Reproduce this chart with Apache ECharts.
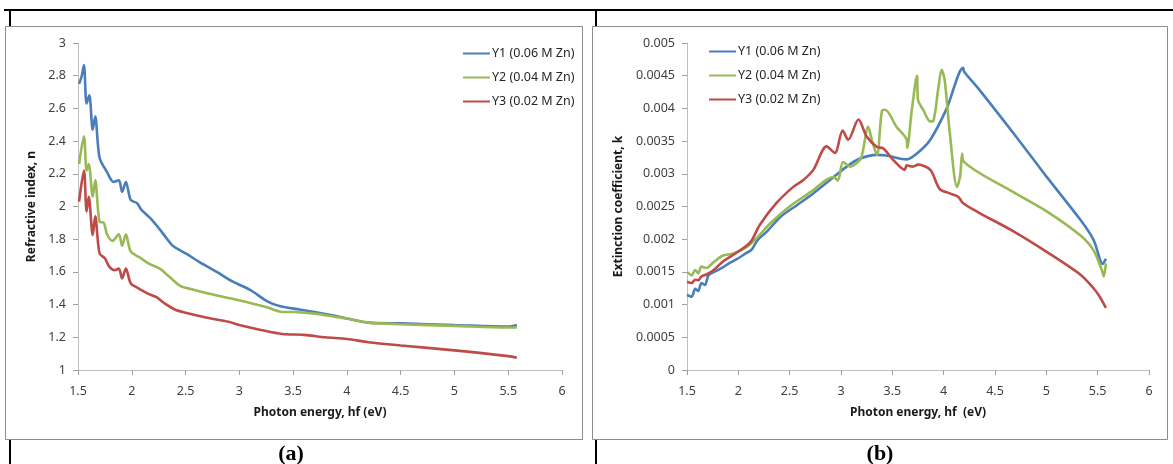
<!DOCTYPE html>
<html>
<head>
<meta charset="utf-8">
<script src="https://cdn.jsdelivr.net/npm/echarts@6/dist/echarts.min.js"></script>
<style>
  html, body { margin: 0; padding: 0; background: #fff; }
  #chart { width: 1173px; height: 464px; }
</style>
</head>
<body>
<div id="chart"></div>
<script>
// Legend names shared by both panels
const seriesNames = ['Y1 (0.06 M Zn)', 'Y2 (0.04 M Zn)', 'Y3 (0.02 M Zn)'];

// Tick labels
const energyTickLabels = ['1.5', '2', '2.5', '3', '3.5', '4', '4.5', '5', '5.5', '6'];
const nTickLabels = ['1', '1.2', '1.4', '1.6', '1.8', '2', '2.2', '2.4', '2.6', '2.8', '3'];
const kTickLabels = ['0', '0.0005', '0.001', '0.0015', '0.002', '0.0025', '0.003', '0.0035', '0.004', '0.0045', '0.005'];

// (a) Refractive index n vs photon energy (eV)
const nY1 = [
  [1.51, 2.75], [1.535, 2.80], [1.555, 2.865], [1.58, 2.63], [1.605, 2.68], [1.637, 2.47],
  [1.66, 2.55], [1.70, 2.30], [1.77, 2.21], [1.83, 2.15], [1.88, 2.16], [1.91, 2.09],
  [1.945, 2.15], [1.99, 2.04], [2.05, 2.02], [2.09, 1.98], [2.17, 1.93], [2.26, 1.86],
  [2.33, 1.80], [2.38, 1.76], [2.51, 1.71], [2.63, 1.66], [2.79, 1.60], [2.94, 1.54],
  [3.10, 1.49], [3.26, 1.42], [3.38, 1.39], [3.56, 1.37], [3.70, 1.355], [3.90, 1.33],
  [4.00, 1.315], [4.20, 1.29], [4.50, 1.285], [5.00, 1.275], [5.50, 1.265], [5.58, 1.275]
];
const nY2 = [
  [1.51, 2.26], [1.555, 2.43], [1.58, 2.22], [1.60, 2.26], [1.637, 2.06], [1.66, 2.16],
  [1.70, 1.907], [1.74, 1.90], [1.77, 1.83], [1.82, 1.79], [1.88, 1.83], [1.91, 1.76],
  [1.945, 1.83], [1.99, 1.725], [2.07, 1.69], [2.16, 1.65], [2.26, 1.62], [2.35, 1.57],
  [2.45, 1.515], [2.55, 1.495], [2.70, 1.47], [2.90, 1.44], [3.10, 1.41], [3.25, 1.385],
  [3.40, 1.355], [3.50, 1.355], [3.70, 1.345], [3.90, 1.325], [4.00, 1.315], [4.20, 1.29],
  [4.50, 1.28], [5.00, 1.27], [5.50, 1.26], [5.58, 1.26]
];
const nY3 = [
  [1.51, 2.03], [1.555, 2.22], [1.58, 1.97], [1.60, 2.06], [1.637, 1.826], [1.66, 1.94],
  [1.70, 1.714], [1.75, 1.683], [1.79, 1.632], [1.84, 1.61], [1.88, 1.62], [1.91, 1.56],
  [1.945, 1.62], [1.99, 1.53], [2.045, 1.506], [2.14, 1.47], [2.23, 1.445], [2.30, 1.41],
  [2.40, 1.37], [2.50, 1.35], [2.70, 1.32], [2.90, 1.295], [3.00, 1.275], [3.20, 1.245],
  [3.40, 1.22], [3.60, 1.215], [3.80, 1.20], [4.00, 1.19], [4.20, 1.17], [4.50, 1.15],
  [5.00, 1.12], [5.50, 1.085], [5.58, 1.075]
];

// (b) Extinction coefficient k vs photon energy (eV)
const kY1 = [
  [1.50, 0.00115], [1.545, 0.00112], [1.58, 0.00124], [1.61, 0.00121], [1.64, 0.00133],
  [1.675, 0.00130], [1.71, 0.00145], [1.79, 0.00152], [1.85, 0.00157], [1.92, 0.00164],
  [1.98, 0.00169], [2.08, 0.00179], [2.13, 0.00184], [2.19, 0.00199], [2.28, 0.00212],
  [2.41, 0.00234], [2.57, 0.00252], [2.73, 0.00270], [2.89, 0.00290], [3.055, 0.00311],
  [3.18, 0.00323], [3.35, 0.00329], [3.44, 0.00328], [3.64, 0.00322], [3.74, 0.00331],
  [3.87, 0.00352], [4.03, 0.00400], [4.19, 0.00462], [4.20, 0.00456], [4.35, 0.00428],
  [4.68, 0.00362], [5.00, 0.00296], [5.33, 0.00230], [5.46, 0.00199], [5.55, 0.00162],
  [5.58, 0.00170]
];
const kY2 = [
  [1.50, 0.00150], [1.545, 0.00145], [1.58, 0.00153], [1.61, 0.00148], [1.64, 0.00158],
  [1.69, 0.00156], [1.76, 0.00165], [1.85, 0.00175], [1.95, 0.00178], [2.08, 0.00188],
  [2.18, 0.00202], [2.31, 0.00224], [2.50, 0.00250], [2.73, 0.00275], [2.86, 0.00291],
  [2.925, 0.00295], [2.97, 0.00290], [3.02, 0.00318], [3.09, 0.00311], [3.15, 0.00316],
  [3.20, 0.00326], [3.265, 0.00372], [3.30, 0.00352], [3.35, 0.00329], [3.40, 0.00397],
  [3.43, 0.00398], [3.54, 0.00372], [3.64, 0.00352], [3.645, 0.00340], [3.69, 0.00398],
  [3.74, 0.00450], [3.75, 0.00413], [3.80, 0.00398], [3.87, 0.00380], [3.90, 0.00381],
  [3.95, 0.00433], [3.98, 0.00459], [4.01, 0.00443], [4.06, 0.00362], [4.13, 0.00280],
  [4.16, 0.00296], [4.18, 0.00331], [4.19, 0.00320], [4.68, 0.00272], [5.00, 0.00243],
  [5.33, 0.00206], [5.46, 0.00183], [5.54, 0.00153], [5.56, 0.00143], [5.58, 0.00163]
];
const kY3 = [
  [1.50, 0.00135], [1.545, 0.00133], [1.58, 0.00138], [1.61, 0.00137], [1.64, 0.00143],
  [1.69, 0.00146], [1.76, 0.00153], [1.85, 0.00166], [1.95, 0.00176], [2.08, 0.00190],
  [2.13, 0.00198], [2.21, 0.00222], [2.37, 0.00255], [2.535, 0.00280], [2.63, 0.00290],
  [2.73, 0.00306], [2.86, 0.00342], [2.94, 0.00332], [3.016, 0.00366], [3.07, 0.00352],
  [3.17, 0.00383], [3.25, 0.00357], [3.35, 0.00341], [3.41, 0.00339], [3.51, 0.00321],
  [3.62, 0.00306], [3.64, 0.00313], [3.70, 0.00311], [3.75, 0.00314], [3.87, 0.00306],
  [3.96, 0.00277], [4.06, 0.00270], [4.14, 0.00265], [4.19, 0.00255], [4.35, 0.00240],
  [4.68, 0.00212], [5.00, 0.00181], [5.33, 0.00146], [5.46, 0.00125], [5.52, 0.00112],
  [5.58, 0.00095]
];

const colors = ['#4a7ebb', '#98b954', '#be4b48'];
const FONT = '"Noto Sans", sans-serif';
const labelColor = '#404040';

function tickFormatter(labels, min, step) {
  return v => labels[Math.round((v - min) / step)] ?? '';
}

function xAxis(gridIndex, name) {
  return {
    type: 'value', gridIndex, min: 1.5, max: 6, interval: 0.5,
    name, nameLocation: 'middle', nameGap: 37,
    nameTextStyle: { fontFamily: FONT, fontWeight: 'bold', fontSize: 12, color: '#1a1a1a' },
    axisLine: { lineStyle: { color: '#bfbfbf', width: 1 } },
    axisTick: { show: true, inside: false, length: 5, lineStyle: { color: '#a0a0a0' } },
    axisLabel: { margin: 15, fontFamily: FONT, fontSize: 12.5, color: labelColor,
                 formatter: tickFormatter(energyTickLabels, 1.5, 0.5) },
    splitLine: { show: false }
  };
}

function yAxis(gridIndex, name, min, max, step, labels, gap) {
  return {
    type: 'value', gridIndex, min, max, interval: step,
    name, nameLocation: 'middle', nameRotate: 90, nameGap: gap,
    nameTextStyle: { fontFamily: FONT, fontWeight: 'bold', fontSize: 12, color: '#1a1a1a' },
    axisLine: { show: true, lineStyle: { color: '#bfbfbf', width: 1 } },
    axisTick: { show: true, inside: false, length: 5, lineStyle: { color: '#a0a0a0' } },
    axisLabel: { margin: 12, fontFamily: FONT, fontSize: 12.5, color: labelColor,
                 formatter: tickFormatter(labels, min, step) },
    splitLine: { show: false }
  };
}

function line(name, data, idx, axisIndex) {
  return {
    name, type: 'line', data,
    xAxisIndex: axisIndex, yAxisIndex: axisIndex,
    smooth: 0.3, symbol: 'none', showSymbol: false,
    lineStyle: { color: colors[idx], width: 2.6 },
    itemStyle: { color: colors[idx] },
    animation: false
  };
}

// Legend keys are plain line strokes (marker hidden)
function legend(left, top) {
  return {
    data: seriesNames, orient: 'vertical', left, top,
    itemWidth: 27, itemHeight: 14, itemGap: 11,
    selectedMode: false,
    itemStyle: { opacity: 0 },
    textStyle: { fontFamily: FONT, fontSize: 12.5, color: '#262626', padding: [0, 0, 0, -3] }
  };
}

const chart = echarts.init(document.getElementById('chart'), null, { renderer: 'canvas' });

chart.setOption({
  backgroundColor: '#ffffff',
  animation: false,
  graphic: [
    // table rules behind the two panels
    { type: 'line', z: -3, shape: { x1: 4, y1: 10, x2: 1173, y2: 10 }, style: { stroke: '#000', lineWidth: 2 } },
    { type: 'line', z: -3, shape: { x1: 10, y1: 10, x2: 10, y2: 464 }, style: { stroke: '#000', lineWidth: 2 } },
    { type: 'line', z: -3, shape: { x1: 596, y1: 10, x2: 596, y2: 464 }, style: { stroke: '#000', lineWidth: 2 } },
    // chart frames
    { type: 'rect', z: -2, shape: { x: 5.5, y: 26.5, width: 577, height: 413 }, style: { fill: '#fff', stroke: '#8c8c8c', lineWidth: 1 } },
    { type: 'rect', z: -2, shape: { x: 592.5, y: 26.5, width: 575, height: 413 }, style: { fill: '#fff', stroke: '#8c8c8c', lineWidth: 1 } },
    // panel captions
    { type: 'text', z: 5, x: 291, y: 454, style: { text: '(a)', fill: '#000', font: 'bold 22px "Liberation Serif", "Times New Roman", serif', textAlign: 'center', textVerticalAlign: 'middle' } },
    { type: 'text', z: 5, x: 880, y: 454, style: { text: '(b)', fill: '#000', font: 'bold 22px "Liberation Serif", "Times New Roman", serif', textAlign: 'center', textVerticalAlign: 'middle' } }
  ],
  legend: [legend(457, 42), legend(703, 40)],
  grid: [
    { left: 78, top: 43, width: 484, height: 327, containLabel: false },
    { left: 687, top: 43, width: 462, height: 327, containLabel: false }
  ],
  xAxis: [
    xAxis(0, 'Photon energy, hf (eV)'),
    xAxis(1, 'Photon energy, hf  (eV)')
  ],
  yAxis: [
    yAxis(0, 'Refractive index, n', 1, 3, 0.2, nTickLabels, 40),
    yAxis(1, 'Extinction coefficient, k', 0, 0.005, 0.0005, kTickLabels, 62)
  ],
  series: [
    line(seriesNames[0], nY1, 0, 0),
    line(seriesNames[1], nY2, 1, 0),
    line(seriesNames[2], nY3, 2, 0),
    line(seriesNames[0], kY1, 0, 1),
    line(seriesNames[1], kY2, 1, 1),
    line(seriesNames[2], kY3, 2, 1)
  ]
});
</script>
</body>
</html>
